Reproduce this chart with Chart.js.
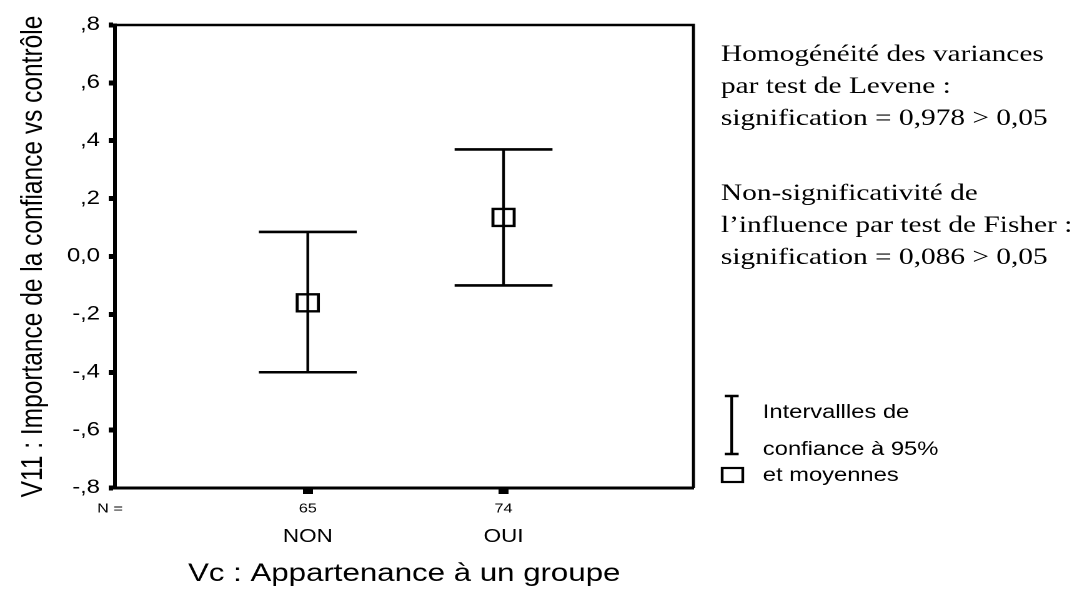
<!DOCTYPE html>
<html><head><meta charset="utf-8">
<script src="https://cdn.jsdelivr.net/npm/chart.js@4.4.1/dist/chart.umd.min.js"></script>
<style>
html,body{margin:0;padding:0;background:#fff;overflow:hidden;width:1087px;height:607px;}
#wrap{position:absolute;left:0;top:0;width:870px;height:607px;transform:scaleX(1.24943);transform-origin:0 0;}
</style></head><body>
<div id="wrap"><canvas id="c"></canvas></div>
<script>
const categories = ['NON', 'OUI'];
const categoryPositions = [1, 2];
const nCounts = [65, 74];
const means = [-0.16, 0.135];
const ciLower = [-0.40, -0.10];
const ciUpper = [0.085, 0.37];
const yTickValues = [-0.8, -0.6, -0.4, -0.2, 0, 0.2, 0.4, 0.6, 0.8];
const yTickLabels = ['-,8', '-,6', '-,4', '-,2', '0,0', ',2', ',4', ',6', ',8'];
const xTitle = 'Vc : Appartenance \u00e0 un groupe';
const yTitle = 'V11 : Importance de la confiance vs contr\u00f4le';
const noteLines = ['Homog\u00e9n\u00e9it\u00e9 des variances', 'par test de Levene :', 'signification = 0,978 > 0,05',
                   'Non-significativit\u00e9 de', 'l\u2019influence par test de Fisher :', 'signification = 0,086 > 0,05'];
const legendLines = ['Intervallles de', 'confiance \u00e0 95%', 'et moyennes'];
const nLabel = 'N =';

const SANS = '"Liberation Sans", Arial, sans-serif';
const SERIF = '"Liberation Serif", "Times New Roman", serif';
const CAP = 0.25;

const datasets = [];
categoryPositions.forEach((x, i) => {
  datasets.push({data: [{x: x, y: ciLower[i]}, {x: x, y: ciUpper[i]}], showLine: true, borderColor: '#000', borderWidth: 2.2, pointRadius: 0});
  datasets.push({data: [{x: x - CAP, y: ciUpper[i]}, {x: x + CAP, y: ciUpper[i]}], showLine: true, borderColor: '#000', borderWidth: 2.6, pointRadius: 0});
  datasets.push({data: [{x: x - CAP, y: ciLower[i]}, {x: x + CAP, y: ciLower[i]}], showLine: true, borderColor: '#000', borderWidth: 2.6, pointRadius: 0});
});
datasets.push({
  data: categoryPositions.map((x, i) => ({x: x, y: means[i]})),
  showLine: false, pointStyle: 'rect', pointRadius: 12,
  pointBorderColor: '#000', pointBackgroundColor: 'rgba(0,0,0,0)', pointBorderWidth: 2.4
});

const decor = {
  id: 'decor',
  afterDraw(chart) {
    const ctx = chart.ctx, a = chart.chartArea, xs = chart.scales.x;
    ctx.save();
    ctx.strokeStyle = '#000';
    ctx.lineWidth = 2.4;
    ctx.beginPath();
    ctx.moveTo(a.left, a.top);
    ctx.lineTo(a.right, a.top);
    ctx.lineTo(a.right, a.bottom);
    ctx.stroke();

    ctx.fillStyle = '#000';
    ctx.font = '13px ' + SANS;
    ctx.textAlign = 'center';
    ctx.textBaseline = 'middle';
    const nY = a.bottom + 21;
    ctx.fillText(nLabel, a.left - 4, nY);
    categoryPositions.forEach((v, i) => ctx.fillText(String(nCounts[i]), xs.getPixelForValue(v), nY));

    ctx.textAlign = 'left';
    ctx.textBaseline = 'alphabetic';
    ctx.font = '23.5px ' + SERIF;
    const noteX = a.right + 22;
    const noteY = [61, 93, 125, 200, 232, 264];
    noteLines.forEach((t, i) => ctx.fillText(t, noteX, noteY[i]));

    // legend
    const lx = a.right + 30.6;
    ctx.lineWidth = 2.2;
    ctx.beginPath();
    ctx.moveTo(lx, 396); ctx.lineTo(lx, 454);
    ctx.stroke();
    ctx.lineWidth = 2.4;
    ctx.beginPath();
    ctx.moveTo(lx - 5.6, 396); ctx.lineTo(lx + 5.6, 396);
    ctx.moveTo(lx - 5.6, 454); ctx.lineTo(lx + 5.6, 454);
    ctx.stroke();
    ctx.lineWidth = 2.2;
    ctx.strokeRect(a.right + 23, 468, 16.5, 14);
    ctx.font = '19px ' + SANS;
    const ly = [418, 455, 481];
    legendLines.forEach((t, i) => ctx.fillText(t, a.right + 55.5, ly[i]));
    ctx.restore();
  }
};

new Chart(document.getElementById('c'), {
  type: 'scatter',
  data: {datasets: datasets},
  options: {
    responsive: true,
    maintainAspectRatio: false,
    devicePixelRatio: 2,
    animation: false,
    events: [],
    layout: {padding: {left: 0, top: 25, right: 315, bottom: 0}},
    plugins: {legend: {display: false}, tooltip: {enabled: false}},
    scales: {
      x: {
        type: 'linear', min: 0.015, max: 2.97,
        afterBuildTicks: s => { s.ticks = categoryPositions.map(v => ({value: v})); },
        afterFit: s => { s.height = 119; },
        ticks: {callback: (v, i) => categories[i], font: {family: SANS, size: 18}, color: '#000', padding: 32, maxRotation: 0, autoSkip: false},
        grid: {drawOnChartArea: false, drawTicks: true, tickLength: 6, tickWidth: 8, tickColor: '#000'},
        border: {display: true, color: '#000', width: 3},
        title: {display: true, text: xTitle, font: {family: SANS, size: 25}, color: '#000', padding: {top: 0, bottom: 18}}
      },
      y: {
        type: 'linear', min: -0.8, max: 0.8,
        afterBuildTicks: s => { s.ticks = yTickValues.map(v => ({value: v})); },
        afterFit: s => { s.width = 92; },
        ticks: {callback: (v, i) => yTickLabels[i], font: {family: SANS, size: 19}, color: '#000', padding: 7},
        grid: {drawOnChartArea: false, drawTicks: true, tickLength: 5, tickWidth: 5, tickColor: '#000'},
        border: {display: true, color: '#000', width: 3},
        title: {display: true, text: yTitle, font: {family: SANS, size: 24.5}, color: '#000', padding: {top: 12, bottom: 0}}
      }
    }
  },
  plugins: [decor]
});
</script>
</body></html>
